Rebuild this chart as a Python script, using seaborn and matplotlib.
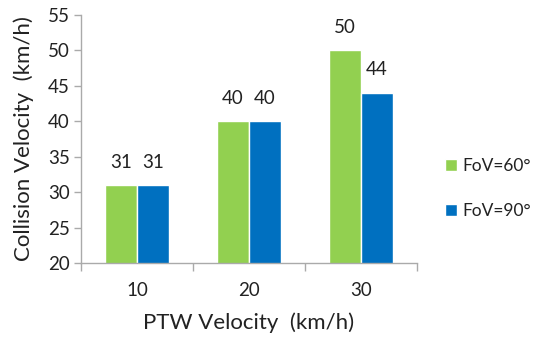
import matplotlib
matplotlib.use("Agg")
import matplotlib.pyplot as plt
import seaborn as sns
import pandas as pd
from matplotlib.ticker import FixedLocator

ptw_velocity = ["10", "20", "30"]
fov_60 = [31, 40, 50]
fov_90 = [31, 40, 44]
series_names = ["FoV=60°", "FoV=90°"]
y_ticks = [20, 25, 30, 35, 40, 45, 50, 55]

df = pd.DataFrame({
    "PTW": ptw_velocity * 2,
    "Collision": fov_60 + fov_90,
    "FoV": [series_names[0]] * 3 + [series_names[1]] * 3,
})

sns.set_style("white")
plt.rcParams["font.family"] = ["Lato", "DejaVu Sans"]

fig = plt.figure(figsize=(5.33, 3.38), dpi=100)
ax = fig.add_axes([0.152, 0.222, 0.630, 0.734])

palette = {series_names[0]: "#92D050", series_names[1]: "#0070C0"}
sns.barplot(data=df, x="PTW", y="Collision", hue="FoV", palette=palette,
            width=0.57, gap=0, edgecolor="white", linewidth=1,
            saturation=1, ax=ax, legend=True)

for cont in ax.containers:
    for rect in cont:
        h = rect.get_height()
        ax.annotate(f"{h:.0f}", (rect.get_x() + rect.get_width() / 2, h),
                    xytext=(0, 16.5), textcoords="offset points",
                    ha="center", va="center", fontsize=13.5, color="#222222")

ax.set_ylim(20, 55)
ax.set_xlim(-0.5, 2.5)
ax.set_yticks(y_ticks)
ax.set_xlabel("PTW Velocity  (km/h)", fontsize=16, labelpad=10, color="#222222")
ax.set_ylabel("Collision Velocity  (km/h)", fontsize=16, labelpad=10, color="#222222")

for s in ["top", "right"]:
    ax.spines[s].set_visible(False)
for s in ["left", "bottom"]:
    ax.spines[s].set_color("#aaaaaa")
    ax.spines[s].set_linewidth(1)

ax.tick_params(axis="y", which="major", left=True, length=5, width=1,
               color="#aaaaaa", labelsize=13.5, labelcolor="#222222", pad=3)
ax.tick_params(axis="x", which="major", bottom=False, labelsize=13.5,
               labelcolor="#222222", pad=10)
ax.xaxis.set_minor_locator(FixedLocator([-0.5, 0.5, 1.5, 2.5]))
ax.tick_params(axis="x", which="minor", bottom=True, length=6, width=1,
               color="#aaaaaa")

leg = ax.legend(loc="center left", bbox_to_anchor=(1.062, 0.30), frameon=False,
                fontsize=12.5, handlelength=0.7, handleheight=0.7,
                handletextpad=0.3, labelspacing=1.65, borderaxespad=0)
for t in leg.get_texts():
    t.set_color("#222222")

fig.savefig("out.png", dpi=100)
